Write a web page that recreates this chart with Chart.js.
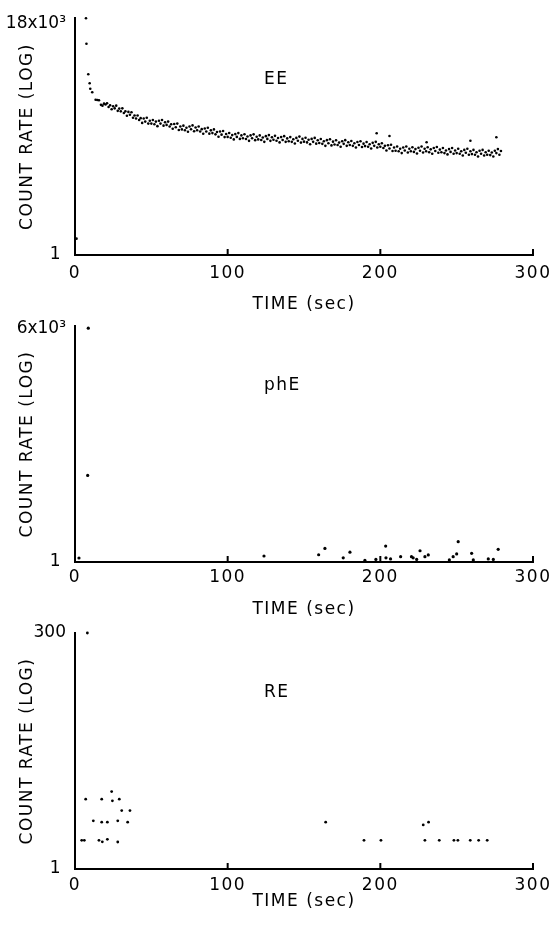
<!DOCTYPE html>
<html><head><meta charset="utf-8">
<script src="https://cdn.jsdelivr.net/npm/chart.js@4.4.1/dist/chart.umd.min.js"></script>
<style>
html,body{margin:0;padding:0;background:#fff;}
body{width:554px;height:927px;position:relative;overflow:hidden;}
canvas{position:absolute;left:0;}
</style></head><body>
<canvas id="c1" width="554" height="320" style="top:0px"></canvas>
<canvas id="c2" width="554" height="300" style="top:320px"></canvas>
<canvas id="c3" width="554" height="307" style="top:620px"></canvas>
<script>
// ---------- shared axis text ----------
const xTicks = [0, 100, 200, 300];
const xTickLabels = ['0', '100', '200', '300'];
const xTitle = 'TIME (sec)';
const yTitle = 'COUNT RATE (LOG)';

// ---------- EE panel ----------
const eeLabel = 'EE';
const eeYTicks = [1, 18000];
const eeYTickLabels = ['1 ', '18x10³'];
const eeTime = [1, 7.2, 7.5, 8.7, 9.6, 10.0, 11.3, 13.5, 14.6, 15.7,
  17,18,19,20,21,22,23,24,25,26,27,28,29,30,31,32,33,34,35,36,37,38,39,40,
  41,42,43,44,45,46,47,48,49,50,51,52,53,54,55,56,57,58,59,60,
  61,62,63,64,65,66,67,68,69,70,71,72,73,74,75,76,77,78,79,80,
  81,82,83,84,85,86,87,88,89,90,91,92,93,94,95,96,97,98,99,100,
  101,102,103,104,105,106,107,108,109,110,111,112,113,114,115,116,117,118,119,120,
  121,122,123,124,125,126,127,128,129,130,131,132,133,134,135,136,137,138,139,140,
  141,142,143,144,145,146,147,148,149,150,151,152,153,154,155,156,157,158,159,160,
  161,162,163,164,165,166,167,168,169,170,171,172,173,174,175,176,177,178,179,180,
  181,182,183,184,185,186,187,188,189,190,191,192,193,194,195,196,197,198,199,200,
  201,202,203,204,205,206,207,208,209,210,211,212,213,214,215,216,217,218,219,220,
  221,222,223,224,225,226,227,228,229,230,231,232,233,234,235,236,237,238,239,240,
  241,242,243,244,245,246,247,248,249,250,251,252,253,254,255,256,257,258,259,260,
  261,262,263,264,265,266,267,268,269,270,271,272,273,274,275,276,277,278,279,
  197.6, 206, 230.3, 259, 276];
const eeCount = [2, 22700, 7740, 2120, 1450, 1150, 990, 720, 710, 705,
  580,560,610,590,620,530,570,480,545,500,560,450,495,440,500,410,440,365,430,380,425,335,370,325,
  370,305,330,270,325,285,335,262,295,262,305,255,285,235,295,262,305,240,278,248,
  285,232,255,210,258,225,262,200,232,205,240,198,220,185,232,206,243,190,222,198,
  232,188,207,170,213,188,220,171,197,175,205,166,183,150,188,164,191,148,169,149,
  176,144,161,134,168,149,175,137,159,141,167,136,152,126,159,141,166,130,150,134,
  159,131,145,121,154,137,161,126,147,132,156,127,142,118,148,131,154,121,140,124,
  148,121,135,113,143,127,151,117,137,122,144,118,132,109,137,121,143,112,129,115,
  136,111,124,102,130,114,135,104,122,108,129,106,117,98,124,111,130,102,119,106,
  125,102,114,95,120,106,124,97,112,101,120,98,109,91,116,102,121,95,109,98,
  114,93,102,84,105,91,107,82,95,83,99,81,90,75,95,84,99,77,90,81,
  96,79,89,74,94,83,99,77,90,81,96,78,88,73,93,82,97,76,87,78,
  93,75,84,71,89,79,93,73,84,75,90,73,81,68,86,76,90,70,81,72,
  86,70,78,65,83,73,86,68,78,70,83,69,77,65,83,75,89,70,82,
  174, 155, 119, 127, 147];

// ---------- phE panel ----------
const phLabel = 'phE';
const phYTicks = [1, 6000];
const phYTickLabels = ['1 ', '6x10³'];
const phTime = [2.6, 8.3, 8.7, 123.8, 159.6, 163.7, 175.7, 180.1, 189.9, 197.1, 203.5, 203.7, 206.7, 213.3, 220.4, 221.5, 223.8, 226, 229.2, 231.4, 245.2, 247.7, 250, 251, 259.8, 260.9, 270.7, 274, 277.2];
const phCount = [1.16, 25, 6000, 1.25, 1.31, 1.66, 1.17, 1.44, 1.06, 1.10, 1.81, 1.17, 1.12, 1.22, 1.22, 1.17, 1.10, 1.52, 1.22, 1.30, 1.08, 1.22, 1.35, 2.13, 1.38, 1.08, 1.12, 1.10, 1.60];

// ---------- RE panel ----------
const reLabel = 'RE';
const reYTicks = [1, 300];
const reYTickLabels = ['1 ', '300'];
const reTime = [8.1, 4.4, 6.1, 7.0, 12.0, 15.7, 17.5, 17.5, 17.9, 21.2, 21.2, 24.0, 24.5, 28.0, 28.0, 29.0, 30.6, 34.5, 36.0, 164.2, 189.3, 200.4, 228.1, 229.2, 231.6, 238.6, 248.2, 250.8, 258.9, 264.4, 270.0];
const reCount = [300, 2, 2, 5.4, 3.2, 2, 5.4, 3.1, 1.93, 3.1, 2.05, 6.5, 5.2, 3.2, 1.92, 5.4, 4.1, 3.1, 4.1, 3.1, 2, 2, 2.9, 2, 3.1, 2, 2, 2, 2, 2, 2];

// ---------- drawing ----------
const FONT = '"DejaVu Sans", sans-serif';
const SPACING = '1.5px';

const spacingPlugin = {
  id: 'spacing',
  beforeUpdate(c) { c.ctx.letterSpacing = SPACING; },
  beforeDraw(c) { c.ctx.letterSpacing = SPACING; },
  afterDatasetsDraw(c) { c.ctx.letterSpacing = '0px'; }
};

const innerTicks = {
  id: 'innerTicks',
  afterDraw(c) {
    const ctx = c.ctx, a = c.chartArea, x = c.scales.x;
    ctx.save();
    ctx.strokeStyle = '#000';
    ctx.lineWidth = 2;
    for (const v of xTicks) {
      if (v === 0) continue;
      const px = x.getPixelForValue(v);
      ctx.beginPath();
      ctx.moveTo(px, a.bottom);
      ctx.lineTo(px, a.bottom - 6);
      ctx.stroke();
    }
    ctx.restore();
  }
};

const panelLabel = {
  id: 'panelLabel',
  afterDraw(c, args, opts) {
    const ctx = c.ctx, a = c.chartArea;
    ctx.save();
    ctx.letterSpacing = SPACING;
    ctx.font = '17px ' + FONT;
    ctx.fillStyle = '#000';
    ctx.textAlign = 'left';
    ctx.textBaseline = 'middle';
    ctx.fillText(opts.text, a.left + opts.dx, a.top + opts.dy);
    ctx.restore();
  }
};

function makePanel(id, p) {
  return new Chart(document.getElementById(id), {
    type: 'scatter',
    data: {
      datasets: [{
        data: p.times.map((t, i) => ({x: t, y: p.counts[i]})),
        pointRadius: p.r, pointHoverRadius: p.r, pointBorderWidth: 0,
        backgroundColor: '#000', borderColor: '#000', clip: false
      }]
    },
    options: {
      responsive: false, animation: false, devicePixelRatio: 1, events: [],
      layout: {padding: {top: p.padTop, right: 21, left: 0, bottom: 0}},
      plugins: {
        legend: {display: false}, tooltip: {enabled: false},
        panelLabel: {text: p.label, dx: 189, dy: p.labelDy}
      },
      scales: {
        x: {
          type: 'linear', min: 0, max: 300, position: 'bottom',
          grid: {display: false, drawTicks: false},
          border: {display: true, color: '#000', width: 2},
          afterBuildTicks: s => { s.ticks = xTicks.map(v => ({value: v})); },
          ticks: {
            color: '#000', font: {family: FONT, size: 17}, padding: p.xTickPad,
            maxRotation: 0, autoSkip: false,
            callback: v => { const i = xTicks.indexOf(v); return i < 0 ? '' : xTickLabels[i]; }
          },
          title: {display: true, text: xTitle, color: '#000', font: {family: FONT, size: 17},
                  padding: {top: 0, bottom: p.xTitlePad}},
          afterFit: s => { s.height = p.xAxisH; s.paddingLeft = 0; s.paddingRight = 0; }
        },
        y: {
          type: 'logarithmic', min: 1, max: p.yMax, position: 'left',
          grid: {display: false, drawTicks: false},
          border: {display: true, color: '#000', width: 2},
          afterBuildTicks: s => { s.ticks = p.yTicks.map(v => ({value: v})); },
          ticks: {
            z: 1,
            color: '#000', font: {family: FONT, size: 17}, padding: 9, autoSkip: false,
            callback: v => { const i = p.yTicks.indexOf(v); return i < 0 ? '' : p.yTickLabels[i]; }
          },
          title: {display: true, text: yTitle, color: '#000', font: {family: FONT, size: 17},
                  padding: {top: 17, bottom: 0}},
          afterFit: s => { s.width = 75; s.paddingTop = 0; s.paddingBottom = 0; }
        }
      }
    },
    plugins: [spacingPlugin, innerTicks, panelLabel]
  });
}

makePanel('c1', {label: eeLabel, times: eeTime, counts: eeCount, yTicks: eeYTicks, yTickLabels: eeYTickLabels,
  yMax: 23000, padTop: 18, xAxisH: 65, xTickPad: 8, xTitlePad: 5, labelDy: 62, r: 1.3});
makePanel('c2', {label: phLabel, times: phTime, counts: phCount, yTicks: phYTicks, yTickLabels: phYTickLabels,
  yMax: 6500, padTop: 6, xAxisH: 58, xTickPad: 5, xTitlePad: 0, labelDy: 60, r: 1.6});
makePanel('c3', {label: reLabel, times: reTime, counts: reCount, yTicks: reYTicks, yTickLabels: reYTickLabels,
  yMax: 300, padTop: 13, xAxisH: 58, xTickPad: 6, xTitlePad: 15, labelDy: 60, r: 1.4});
</script>
</body></html>
